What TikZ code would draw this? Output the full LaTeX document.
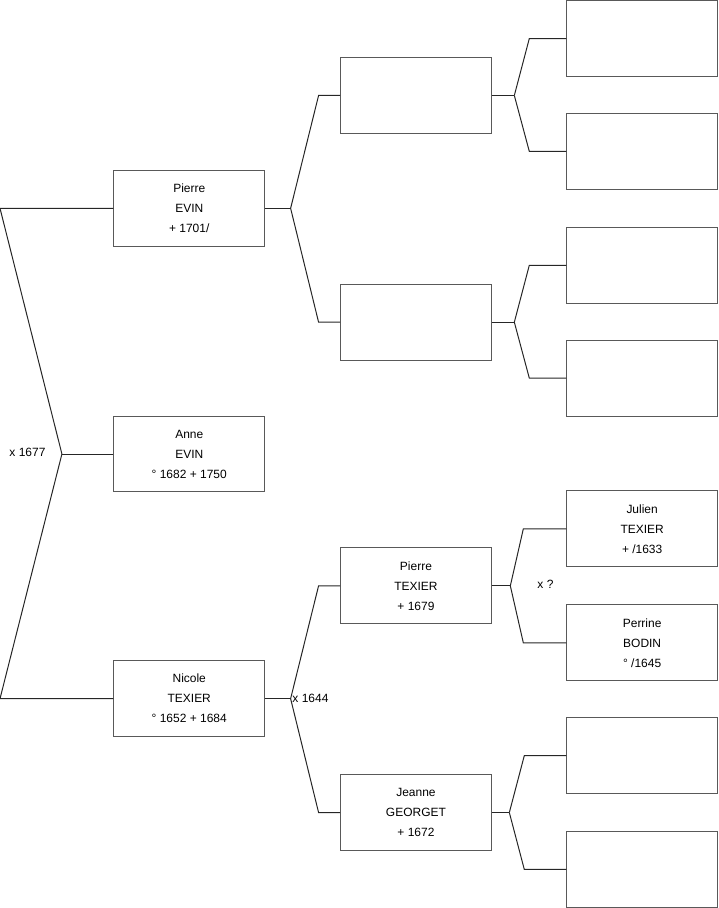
\documentclass[tikz,border=0pt]{standalone}
\usepackage{fontspec}
\setmainfont{Liberation Sans}
\usetikzlibrary{positioning}

\begin{document}
\begin{tikzpicture}[x=0.75pt, y=-0.75pt, line width=0.75pt, every node/.style={font=\fontsize{9}{15}\selectfont}, person/.style={draw=black!65, fill=white, align=center, minimum width=113.25pt, minimum height=57pt, inner sep=0pt}, link/.style={draw=black!85}]
\useasboundingbox (0,-0.6) rectangle (719.6,908.6);
% generation 1
\node[person] (aevin) at (189.5,454) {Anne\\EVIN\\° 1682 + 1750};
% generation 2
\node[person] (pevin) at (189.5,208) {Pierre\\EVIN\\+ 1701/};
\node[person] (ntexier) at (189.5,699) {Nicole\\TEXIER\\° 1652 + 1684};
% generation 3
\node[person] (p1) at (416.5,95) {};
\node[person] (p2) at (416.5,322) {};
\node[person] (ptexier) at (416.5,586) {Pierre\\TEXIER\\+ 1679};
\node[person] (jgeorget) at (416.5,813) {Jeanne\\GEORGET\\+ 1672};
% generation 4
\node[person] (g1) at (643,38) {};
\node[person] (g2) at (643,151) {};
\node[person] (g3) at (643,265) {};
\node[person] (g4) at (643,378) {};
\node[person] (jtexier) at (643,529) {Julien\\TEXIER\\+ /1633};
\node[person] (pbodin) at (643,643) {Perrine\\BODIN\\° /1645};
\node[person] (g7) at (643,756) {};
\node[person] (g8) at (643,870) {};
% forks
\coordinate (fA) at (62,454);
\coordinate (cA1) at (0,208);
\coordinate (cA2) at (0,699);
\coordinate (fP) at (291,208);
\coordinate (cP1) at (319,95);
\coordinate (cP2) at (319,322);
\coordinate (fN) at (291,699);
\coordinate (cN1) at (319,586);
\coordinate (cN2) at (319,813);
\coordinate (f1) at (515,95);
\coordinate (c11) at (530,38);
\coordinate (c12) at (530,151);
\coordinate (f2) at (515,322);
\coordinate (c21) at (530,265);
\coordinate (c22) at (530,378);
\coordinate (fPT) at (511,586);
\coordinate (cPT1) at (524,529);
\coordinate (cPT2) at (524,643);
\coordinate (fJG) at (510,813);
\coordinate (cJG1) at (525,756);
\coordinate (cJG2) at (525,870);
\draw[link] (aevin.west)--(fA); \draw[link] (fA)--(cA1)--(pevin.west); \draw[link] (fA)--(cA2)--(ntexier.west);
\draw[link] (pevin.east)--(fP); \draw[link] (fP)--(cP1)--(p1.west); \draw[link] (fP)--(cP2)--(p2.west);
\draw[link] (ntexier.east)--(fN); \draw[link] (fN)--(cN1)--(ptexier.west); \draw[link] (fN)--(cN2)--(jgeorget.west);
\draw[link] (p1.east)--(f1); \draw[link] (f1)--(c11)--(g1.west); \draw[link] (f1)--(c12)--(g2.west);
\draw[link] (p2.east)--(f2); \draw[link] (f2)--(c21)--(g3.west); \draw[link] (f2)--(c22)--(g4.west);
\draw[link] (ptexier.east)--(fPT); \draw[link] (fPT)--(cPT1)--(jtexier.west); \draw[link] (fPT)--(cPT2)--(pbodin.west);
\draw[link] (jgeorget.east)--(fJG); \draw[link] (fJG)--(cJG1)--(g7.west); \draw[link] (fJG)--(cJG2)--(g8.west);
% marriages
\node[left=12pt of fA, inner sep=0pt, yshift=1pt] (mA) {x 1677};
\node[right=1pt of fN, inner sep=0pt] (mN) {x 1644};
\node[right=20pt of fPT, inner sep=0pt, yshift=1.5pt] (mPT) {x ?};
\end{tikzpicture}
\end{document}
